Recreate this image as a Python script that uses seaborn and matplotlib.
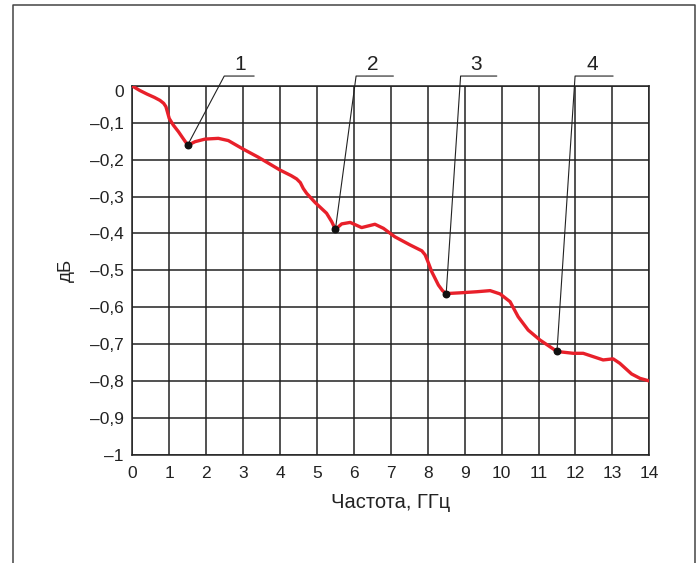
import matplotlib
matplotlib.use("Agg")
import matplotlib.pyplot as plt
import matplotlib.transforms as mtransforms
import seaborn as sns
import pandas as pd
from matplotlib.lines import Line2D

# ---- data ----
freq = [0, 0.2, 0.4, 0.6, 0.75, 0.85, 0.91, 0.95, 1.0, 1.11, 1.25, 1.38, 1.5, 1.6,
        1.7, 1.97, 2.33, 2.6, 3.0, 3.41, 4.0, 4.3, 4.45, 4.55, 4.63, 4.72, 4.95,
        5.26, 5.40, 5.5, 5.67, 5.9, 6.21, 6.57, 6.8, 7.11, 7.52, 7.84, 7.93, 8.0,
        8.11, 8.29, 8.4, 8.5, 8.87, 9.33, 9.69, 9.96, 10.23, 10.45, 10.72, 11.04,
        11.5, 11.94, 12.21, 12.75, 13.02, 13.2, 13.52, 13.75, 14.0]
loss = [0, -0.012, -0.022, -0.031, -0.039, -0.047, -0.056, -0.07, -0.088, -0.106,
        -0.124, -0.143, -0.16, -0.156, -0.151, -0.144, -0.142, -0.148, -0.171,
        -0.193, -0.228, -0.243, -0.252, -0.262, -0.278, -0.291, -0.316, -0.345,
        -0.368, -0.389, -0.374, -0.370, -0.384, -0.375, -0.386, -0.409, -0.431,
        -0.447, -0.458, -0.475, -0.504, -0.54, -0.555, -0.563, -0.561, -0.558,
        -0.555, -0.564, -0.585, -0.626, -0.662, -0.689, -0.72, -0.725, -0.725,
        -0.743, -0.740, -0.752, -0.781, -0.793, -0.80]

marker_x = [1.5, 5.5, 8.5, 11.5]
marker_y = [-0.16, -0.389, -0.563, -0.72]
marker_labels = ["1", "2", "3", "4"]
knee_x = [2.49, 6.06, 8.89, 11.99]
shelf_end_x = [3.30, 7.07, 9.87, 13.02]
label_x = [2.92, 6.51, 9.31, 12.46]
shelf_y = 0.027
label_y = 0.057

xticks = list(range(0, 15))
xtick_labels = [str(v) for v in xticks]
yticks = [0, -0.1, -0.2, -0.3, -0.4, -0.5, -0.6, -0.7, -0.8, -0.9, -1]
ytick_labels = ["0", "–0,1", "–0,2", "–0,3", "–0,4", "–0,5", "–0,6", "–0,7",
                "–0,8", "–0,9", "–1"]
xlabel = "Частота, ГГц"
ylabel = "дБ"

# ---- style ----
sns.set_style("white")
plt.rcParams["font.family"] = ["Liberation Sans", "DejaVu Sans"]
ink = "#222222"

fig = plt.figure(figsize=(6.99, 5.63), dpi=100)
ax = fig.add_axes([132.3 / 699, 1 - 454.7 / 563, 517 / 699, 368.7 / 563])

df = pd.DataFrame({"f": freq, "db": loss})
sns.lineplot(data=df, x="f", y="db", ax=ax, color="#e8202a", lw=2.4,
             sort=False, zorder=4)
ax.lines[-1].set_solid_joinstyle("round")

ax.set_xlim(0, 14)
ax.set_ylim(-1, 0)
ax.set_xticks(xticks)
ax.set_xticklabels(xtick_labels)
ax.set_yticks(yticks)
ax.set_yticklabels(ytick_labels)
ax.tick_params(length=0, labelsize=12.5, colors=ink)
ax.tick_params(axis="x", pad=8)
ax.tick_params(axis="y", pad=6)
ax.grid(True, color=ink, lw=1.1)
for s in ax.spines.values():
    s.set_color(ink)
    s.set_linewidth(1.1)
ax.set_xlabel(xlabel, fontsize=14.5, color=ink, labelpad=9)
ax.set_ylabel(ylabel, fontsize=13.5, color=ink, labelpad=11)

# shift the "0" y tick label slightly down, as in the reference
ylabs = ax.get_yticklabels()
ylabs[0].set_transform(ylabs[0].get_transform() +
                       mtransforms.ScaledTranslation(0, -5 / 100, fig.dpi_scale_trans))

# markers and leaders
for mx, my, kx, ex, lx, lab in zip(marker_x, marker_y, knee_x, shelf_end_x,
                                   label_x, marker_labels):
    ax.plot([mx, kx, ex], [my, shelf_y, shelf_y], color=ink, lw=0.8,
            clip_on=False, zorder=5)
    ax.text(lx, label_y, lab, fontsize=15, ha="center", va="center",
            color=ink, clip_on=False)
ax.scatter(marker_x, marker_y, s=22, color="#111111", zorder=6, clip_on=False)

# outer frame (open at bottom)
fx0, fx1, fy1 = 12.7 / 699, 695 / 699, 1 - 5 / 563
fig.add_artist(Line2D([fx0, fx0, fx1, fx1], [0, fy1, fy1, 0],
                      transform=fig.transFigure, color="#444444", lw=1.1))

fig.savefig("out.png", dpi=100)
